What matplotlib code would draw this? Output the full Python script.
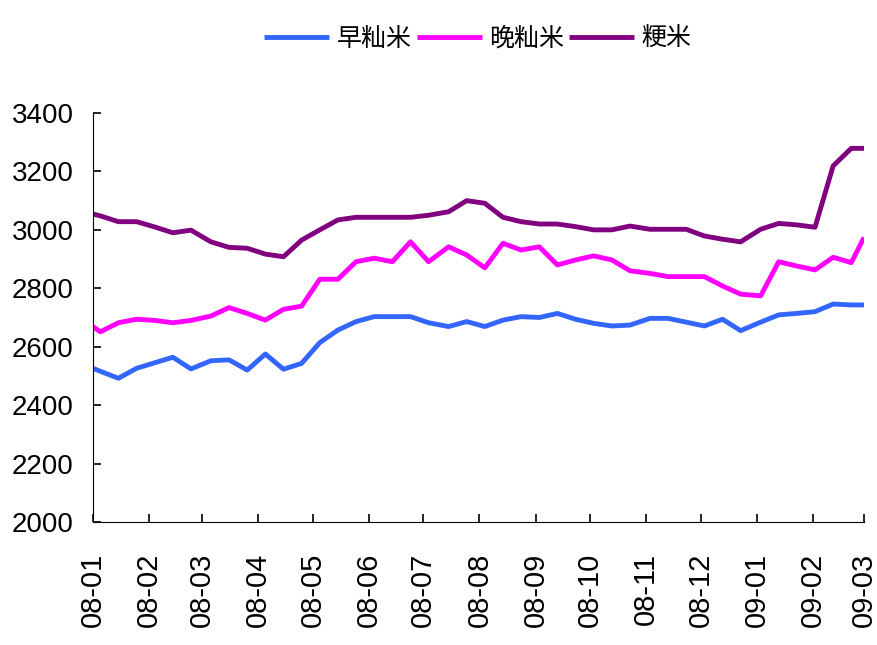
import matplotlib
matplotlib.use('Agg')
import matplotlib.pyplot as plt
import pandas as pd

plt.rcParams['font.family'] = ['Liberation Sans', 'Noto Sans CJK SC', 'DejaVu Sans']

# observation dates (roughly every 10 days)
dates = ['2008-01-01', '2008-01-05', '2008-01-15', '2008-01-25', '2008-02-04', '2008-02-14',
         '2008-02-24', '2008-03-06', '2008-03-16', '2008-03-26', '2008-04-05', '2008-04-15',
         '2008-04-25', '2008-05-05', '2008-05-15', '2008-05-25', '2008-06-04', '2008-06-14',
         '2008-06-24', '2008-07-04', '2008-07-15', '2008-07-25', '2008-08-04', '2008-08-14',
         '2008-08-24', '2008-09-03', '2008-09-13', '2008-09-23', '2008-10-03', '2008-10-13',
         '2008-10-23', '2008-11-03', '2008-11-13', '2008-11-23', '2008-12-03', '2008-12-13',
         '2008-12-23', '2009-01-03', '2009-01-13', '2009-01-23', '2009-02-02', '2009-02-12',
         '2009-02-22', '2009-03-01']

early = [2526, 2516, 2492, 2526, 2545, 2564, 2524, 2552, 2555, 2520,
         2575, 2523, 2543, 2614, 2657, 2686, 2703, 2703, 2703, 2682,
         2669, 2686, 2669, 2691, 2703, 2700, 2714, 2694, 2680, 2671,
         2674, 2697, 2697, 2684, 2671, 2694, 2655, 2684, 2709, 2714,
         2720, 2746, 2743, 2743]
late = [2669, 2651, 2682, 2694, 2690, 2682, 2690, 2705, 2734, 2714,
        2691, 2728, 2739, 2831, 2831, 2891, 2903, 2891, 2959, 2891,
        2942, 2914, 2870, 2954, 2931, 2942, 2880, 2897, 2911, 2897,
        2860, 2851, 2840, 2840, 2840, 2808, 2780, 2774, 2891, 2876,
        2863, 2906, 2888, 2974]
japonica = [3054, 3048, 3028, 3028, 3010, 2990, 2999, 2959, 2940, 2937,
            2917, 2908, 2965, 3000, 3034, 3043, 3043, 3043, 3043, 3050,
            3062, 3100, 3091, 3043, 3028, 3020, 3020, 3011, 3000, 3000,
            3013, 3002, 3002, 3002, 2979, 2968, 2959, 3002, 3022, 3017,
            3009, 3219, 3279, 3279]

names = ['早籼米', '晚籼米', '粳米']
colors = ['#3366ff', '#ff00ff', '#800080']

tick_dates = ['2008-01-01', '2008-02-01', '2008-03-01', '2008-04-01', '2008-05-01',
              '2008-06-01', '2008-07-01', '2008-08-01', '2008-09-01', '2008-10-01',
              '2008-11-01', '2008-12-01', '2009-01-01', '2009-02-01', '2009-03-01']
tick_labels = ['08-01', '08-02', '08-03', '08-04', '08-05', '08-06', '08-07', '08-08',
               '08-09', '08-10', '08-11', '08-12', '09-01', '09-02', '09-03']

fig = plt.figure(figsize=(8.77, 6.45), dpi=100)
ax = fig.add_axes([93/877, 1 - 522/645, 771/877, 409/645])

x = pd.to_datetime(dates)
for vals, name, c in zip([early, late, japonica], names, colors):
    ax.plot(x, vals, color=c, lw=3.5, label=name, solid_capstyle='butt')

ax.set_xlim(pd.Timestamp('2008-01-01'), pd.Timestamp('2009-03-01'))
ax.set_ylim(2000, 3400)
ax.set_yticks(range(2000, 3401, 200))
ax.set_xticks(pd.to_datetime(tick_dates))
ax.set_xticklabels(tick_labels, rotation=90)

ax.spines['top'].set_visible(False)
ax.spines['right'].set_visible(False)
ax.tick_params(direction='in', length=6, width=1.2, labelsize=20)
ax.tick_params(axis='y', pad=14)
ax.tick_params(axis='x', pad=22, labelsize=21)

fig.legend(loc='upper center', bbox_to_anchor=(0.545, 0.995), ncol=3, frameon=False,
           handlelength=2.6, handletextpad=0.3, columnspacing=0.2,
           prop={'family': ['Noto Sans CJK SC'], 'size': 18})

fig.savefig('out.png', dpi=100)
